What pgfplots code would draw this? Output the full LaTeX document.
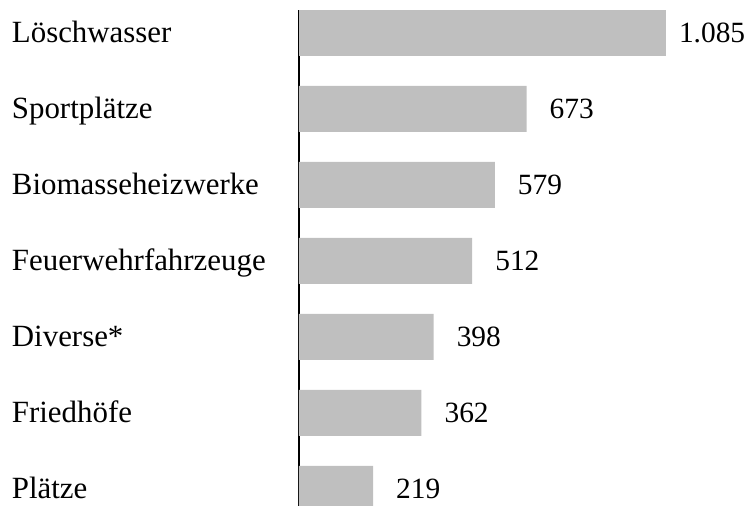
\documentclass[border=0pt]{standalone}
\usepackage{pgfplots}
\pgfplotsset{compat=1.18}
\usepackage{fontspec}
\setmainfont{Liberation Serif}
\definecolor{bargray}{RGB}{191,191,191}
\begin{document}
\begin{tikzpicture}
\begin{axis}[
  scale only axis,
  width=448bp, height=496bp,
  xmin=0, xmax=1325,
  ymin=-0.2237, ymax=6.3026,
  xbar, bar width=46bp, bar shift=0pt,
  axis y line*=left,
  axis x line=none,
  y axis line style={line width=1.2bp, black},
  ytick={0,1,2,3,4,5,6},
  yticklabels={Plätze,Friedhöfe,Diverse*,Feuerwehrfahrzeuge,Biomasseheizwerke,Sportplätze,Löschwasser},
  ytick style={draw=none},
  yticklabel style={font=\fontsize{31}{36}\selectfont, anchor=base west, inner sep=0pt, xshift=-283bp, yshift=-9.5bp},
  point meta=x,
  /pgf/number format/.cd, 1000 sep={.}, assume math mode=true, /pgfplots/.cd,
  nodes near coords,
  every node near coord/.append style={font=\fontsize{29.5}{34}\selectfont, anchor=west, inner sep=0pt, xshift=23bp, text=black},
]
\addplot[fill=bargray, draw=none] coordinates {
  (219,0) (362,1) (398,2) (512,3) (579,4) (673,5)
};
\addplot[fill=bargray, draw=none, every node near coord/.append style={xshift=-10bp}] coordinates {
  (1085,6)
};
\end{axis}
\pgfresetboundingbox
\path (current axis.south west) ++(-299bp,0) coordinate (BL);
\path (current axis.north east) ++(0,10bp) coordinate (TR);
\useasboundingbox (BL) rectangle (TR);
\end{tikzpicture}
\end{document}
